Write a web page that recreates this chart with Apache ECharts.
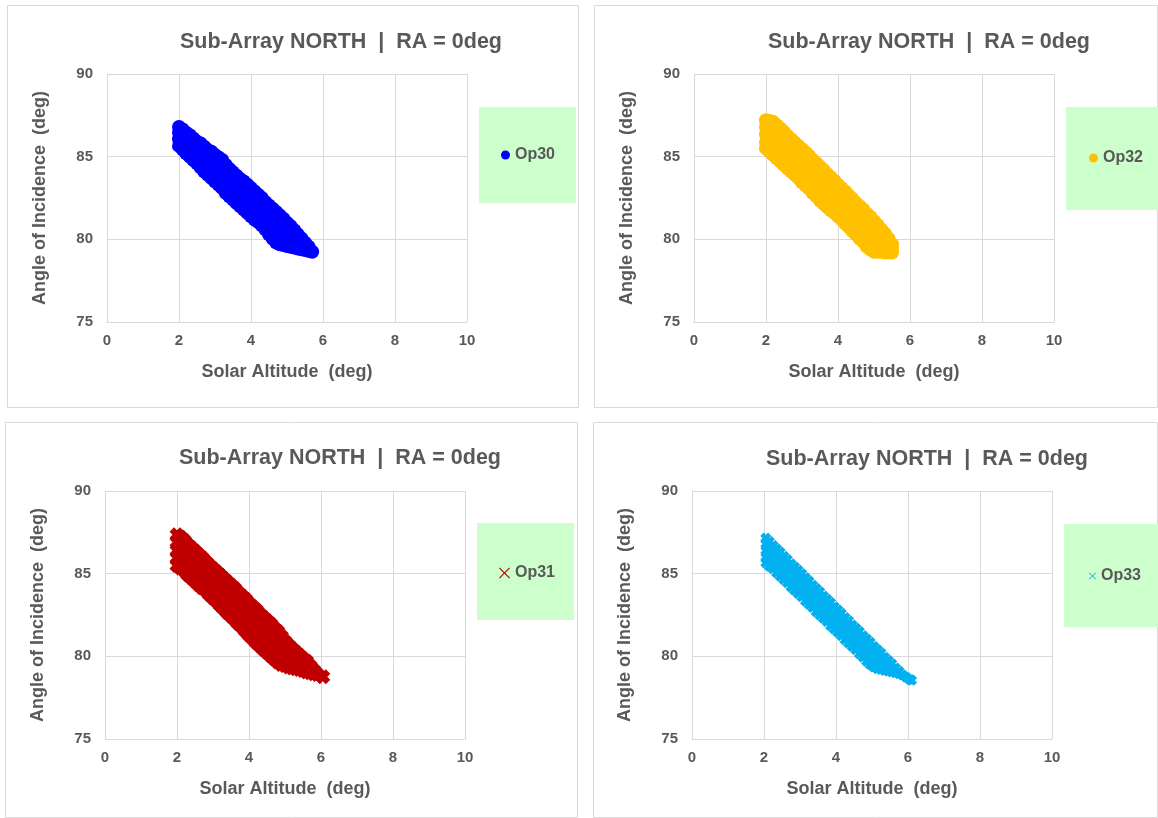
<!DOCTYPE html>
<html>
<head>
<meta charset="utf-8">
<script src="https://cdn.jsdelivr.net/npm/echarts@6/dist/echarts.min.js"></script>
<style>
  html, body { margin: 0; padding: 0; background: #ffffff; }
  #chart { width: 1158px; height: 818px; }
</style>
</head>
<body>
<div id="chart"></div>
<script>
// ---------------- data ----------------
const titleText = 'Sub-Array NORTH  |  RA = 0deg';
const xAxisName = 'Solar Altitude  (deg)';
const yAxisName = 'Angle of Incidence  (deg)';
const xTickValues = [0, 2, 4, 6, 8, 10];
const yTickValues = [75, 80, 85, 90];
const seriesNames = ['Op30', 'Op32', 'Op31', 'Op33'];

// each entry: [solar altitude, [angles of incidence observed at that altitude]]
const op30Cols = [
  [2.0, [85.65, 86.05, 86.45, 86.8]],
  [2.1, [85.45, 85.85, 86.25, 86.65]],
  [2.2, [85.2, 85.6, 86.05, 86.45]],
  [2.3, [85.0, 85.4, 85.85, 86.3]],
  [2.4, [84.8, 85.2, 85.65, 86.1]],
  [2.5, [84.6, 85.05, 85.5, 85.9]],
  [2.6, [84.35, 84.8, 85.3, 85.8]],
  [2.7, [84.1, 84.6, 85.1, 85.6]],
  [2.8, [83.9, 84.4, 84.9, 85.4]],
  [2.9, [83.7, 84.2, 84.75, 85.3]],
  [3.0, [83.5, 83.9, 84.3, 84.7, 85.1]],
  [3.1, [83.3, 83.7, 84.1, 84.55, 84.95]],
  [3.2, [83.1, 83.5, 83.9, 84.35, 84.8]],
  [3.3, [82.8, 83.25, 83.65, 84.1, 84.5]],
  [3.4, [82.6, 83.0, 83.45, 83.85, 84.25]],
  [3.5, [82.4, 82.8, 83.2, 83.65, 84.05]],
  [3.6, [82.2, 82.6, 83.0, 83.45, 83.85]],
  [3.7, [82.0, 82.4, 82.8, 83.25, 83.65]],
  [3.8, [81.8, 82.2, 82.6, 83.05, 83.5]],
  [3.9, [81.6, 82.0, 82.45, 82.9, 83.3]],
  [4.0, [81.4, 81.8, 82.25, 82.7, 83.1]],
  [4.1, [81.2, 81.65, 82.05, 82.5, 82.9]],
  [4.2, [81.05, 81.45, 81.85, 82.3, 82.7]],
  [4.3, [80.85, 81.25, 81.65, 82.1, 82.5]],
  [4.4, [80.6, 81.0, 81.45, 81.85, 82.25]],
  [4.5, [80.3, 80.75, 81.2, 81.65, 82.05]],
  [4.6, [80.05, 80.5, 80.95, 81.4, 81.85]],
  [4.7, [79.8, 80.25, 80.7, 81.2, 81.65]],
  [4.8, [79.7, 80.15, 80.6, 81.05, 81.45]],
  [4.9, [79.65, 80.05, 80.45, 80.85, 81.25]],
  [5.0, [79.6, 80.1, 80.55, 81.0]],
  [5.1, [79.55, 80.0, 80.4, 80.8]],
  [5.2, [79.5, 79.85, 80.2, 80.55]],
  [5.3, [79.45, 79.85, 80.3]],
  [5.4, [79.4, 79.75, 80.05]],
  [5.5, [79.35, 79.6, 79.8]],
  [5.6, [79.3, 79.55]],
  [5.7, [79.25]]
];

const op32Cols = [
  [2.0, [85.5, 85.85, 86.35, 86.8, 87.2]],
  [2.1, [85.3, 85.7, 86.2, 86.75, 87.15]],
  [2.2, [85.1, 85.55, 86.1, 86.65, 87.1]],
  [2.3, [84.9, 85.35, 85.9, 86.45, 86.9]],
  [2.4, [84.7, 85.15, 85.7, 86.25, 86.7]],
  [2.5, [84.5, 84.95, 85.5, 86.05, 86.5]],
  [2.6, [84.3, 84.75, 85.3, 85.85, 86.25]],
  [2.7, [84.1, 84.55, 85.1, 85.6, 86.05]],
  [2.8, [83.9, 84.35, 84.9, 85.4, 85.85]],
  [2.9, [83.7, 84.15, 84.65, 85.2, 85.65]],
  [3.0, [83.45, 83.9, 84.45, 85.0, 85.45]],
  [3.1, [83.25, 83.7, 84.25, 84.8, 85.25]],
  [3.2, [83.05, 83.5, 84.05, 84.6, 85.05]],
  [3.3, [82.8, 83.25, 83.8, 84.35, 84.8]],
  [3.4, [82.6, 83.05, 83.6, 84.15, 84.6]],
  [3.5, [82.35, 82.8, 83.35, 83.9, 84.4]],
  [3.6, [82.15, 82.6, 83.15, 83.7, 84.2]],
  [3.7, [81.95, 82.4, 82.95, 83.5, 83.95]],
  [3.8, [81.75, 82.2, 82.75, 83.3, 83.75]],
  [3.9, [81.6, 82.0, 82.55, 83.1, 83.55]],
  [4.0, [81.4, 81.8, 82.35, 82.9, 83.3]],
  [4.1, [81.2, 81.6, 82.15, 82.7, 83.1]],
  [4.2, [80.95, 81.4, 81.95, 82.45, 82.9]],
  [4.3, [80.75, 81.2, 81.7, 82.25, 82.65]],
  [4.4, [80.5, 80.95, 81.5, 82.0, 82.45]],
  [4.5, [80.3, 80.75, 81.25, 81.8, 82.2]],
  [4.6, [80.05, 80.5, 81.05, 81.6, 82.0]],
  [4.7, [79.85, 80.3, 80.8, 81.35, 81.8]],
  [4.8, [79.55, 80.0, 80.55, 81.1, 81.55]],
  [4.9, [79.4, 79.85, 80.4, 80.9, 81.35]],
  [5.0, [79.25, 79.7, 80.2, 80.7, 81.1]],
  [5.1, [79.25, 79.75, 80.35, 80.85]],
  [5.2, [79.25, 79.7, 80.2, 80.6]],
  [5.3, [79.2, 79.55, 80.0, 80.35]],
  [5.4, [79.2, 79.6, 80.05]],
  [5.5, [79.2, 79.45, 79.7]]
];

const op31Cols = [
  [2.0, [85.5, 85.95, 86.4, 86.9, 87.35]],
  [2.1, [85.35, 85.8, 86.25, 86.7, 87.2]],
  [2.2, [85.2, 85.65, 86.1, 86.55, 87.0]],
  [2.3, [84.95, 85.4, 85.85, 86.3, 86.75]],
  [2.4, [84.75, 85.2, 85.65, 86.1, 86.55]],
  [2.5, [84.55, 85.0, 85.45, 85.9, 86.35]],
  [2.6, [84.35, 84.8, 85.25, 85.7, 86.15]],
  [2.7, [84.15, 84.6, 85.05, 85.5, 85.95]],
  [2.8, [84.0, 84.45, 84.85, 85.3, 85.7]],
  [2.9, [83.75, 84.2, 84.65, 85.1, 85.5]],
  [3.0, [83.55, 84.0, 84.45, 84.9, 85.3]],
  [3.1, [83.35, 83.8, 84.25, 84.7, 85.1]],
  [3.2, [83.1, 83.55, 84.0, 84.45, 84.9]],
  [3.3, [82.9, 83.35, 83.8, 84.25, 84.7]],
  [3.4, [82.65, 83.1, 83.55, 84.0, 84.5]],
  [3.5, [82.45, 82.9, 83.35, 83.8, 84.3]],
  [3.6, [82.25, 82.7, 83.15, 83.6, 84.1]],
  [3.7, [82.0, 82.45, 82.9, 83.35, 83.85]],
  [3.8, [81.8, 82.25, 82.7, 83.2, 83.65]],
  [3.9, [81.55, 82.0, 82.5, 83.0, 83.45]],
  [4.0, [81.3, 81.8, 82.25, 82.75, 83.2]],
  [4.1, [81.1, 81.55, 82.05, 82.5, 83.0]],
  [4.2, [80.85, 81.35, 81.8, 82.3, 82.8]],
  [4.3, [80.65, 81.15, 81.6, 82.1, 82.55]],
  [4.4, [80.45, 80.95, 81.4, 81.9, 82.35]],
  [4.5, [80.25, 80.7, 81.2, 81.65, 82.15]],
  [4.6, [80.05, 80.5, 81.0, 81.45, 81.95]],
  [4.7, [79.85, 80.3, 80.8, 81.25, 81.7]],
  [4.8, [79.65, 80.1, 80.55, 81.05, 81.5]],
  [4.9, [79.5, 79.95, 80.35, 80.8, 81.2]],
  [5.0, [79.45, 79.95, 80.45, 80.9]],
  [5.1, [79.35, 79.8, 80.25, 80.65]],
  [5.2, [79.3, 79.7, 80.1, 80.45]],
  [5.3, [79.25, 79.75, 80.25]],
  [5.4, [79.2, 79.6, 80.05]],
  [5.5, [79.15, 79.5, 79.85]],
  [5.6, [79.05, 79.35, 79.7]],
  [5.7, [79.0, 79.4]],
  [5.8, [78.95, 79.15]],
  [5.9, [78.9]],
  [6.05, [78.77]]
];

const op33Cols = [
  [2.05, [85.65, 86.0, 86.4, 86.8, 87.15]],
  [2.15, [85.45, 85.8, 86.2, 86.55, 86.95]],
  [2.25, [85.3, 85.65, 86.0, 86.35, 86.7]],
  [2.35, [85.05, 85.4, 85.8, 86.15, 86.5]],
  [2.45, [84.85, 85.2, 85.55, 85.9, 86.3]],
  [2.55, [84.65, 85.0, 85.35, 85.7, 86.05]],
  [2.65, [84.45, 84.8, 85.15, 85.5, 85.85]],
  [2.75, [84.2, 84.55, 84.9, 85.25, 85.6]],
  [2.85, [84.0, 84.35, 84.7, 85.05, 85.4]],
  [2.95, [83.8, 84.15, 84.5, 84.85, 85.2]],
  [3.05, [83.6, 83.95, 84.3, 84.65, 85.0]],
  [3.15, [83.35, 83.7, 84.05, 84.4, 84.75]],
  [3.25, [83.15, 83.5, 83.85, 84.2, 84.55]],
  [3.35, [82.95, 83.3, 83.65, 84.0, 84.3]],
  [3.45, [82.7, 83.05, 83.4, 83.75, 84.1]],
  [3.55, [82.5, 82.85, 83.2, 83.55, 83.9]],
  [3.65, [82.3, 82.65, 83.0, 83.35, 83.65]],
  [3.75, [82.1, 82.45, 82.8, 83.1, 83.45]],
  [3.85, [81.85, 82.2, 82.55, 82.9, 83.25]],
  [3.95, [81.65, 82.0, 82.35, 82.7, 83.0]],
  [4.05, [81.45, 81.8, 82.1, 82.45, 82.8]],
  [4.15, [81.25, 81.6, 81.9, 82.25, 82.6]],
  [4.25, [81.0, 81.35, 81.7, 82.0, 82.35]],
  [4.35, [80.8, 81.15, 81.5, 81.8, 82.15]],
  [4.45, [80.6, 80.95, 81.25, 81.6, 81.9]],
  [4.55, [80.4, 80.75, 81.05, 81.4, 81.7]],
  [4.65, [80.15, 80.5, 80.85, 81.15, 81.5]],
  [4.75, [79.95, 80.3, 80.6, 80.95, 81.25]],
  [4.85, [79.7, 80.05, 80.4, 80.7, 81.05]],
  [4.95, [79.5, 79.85, 80.15, 80.5, 80.85]],
  [5.05, [79.35, 79.65, 80.0, 80.3, 80.6]],
  [5.15, [79.25, 79.6, 80.0, 80.4]],
  [5.25, [79.2, 79.55, 79.85, 80.2]],
  [5.35, [79.15, 79.45, 79.7, 79.95]],
  [5.45, [79.1, 79.4, 79.75]],
  [5.55, [79.05, 79.3, 79.55]],
  [5.65, [79.0, 79.3]],
  [5.75, [78.95, 79.1]],
  [5.85, [78.87]],
  [5.95, [78.73]],
  [6.05, [78.6]],
  [6.1, [78.55]]
];

// ---------------- styling / layout ----------------
const FONT = '"Liberation Sans", Arial, Helvetica, sans-serif';
const TEXT = '#595959';
const GRIDC = '#D9D9D9';
const X_THICK = 'path://M0,3.6L3.6,0L6,2.4L8.4,0L12,3.6L9.6,6L12,8.4L8.4,12L6,9.6L3.6,12L0,8.4L2.4,6Z';
const X_THIN = 'path://M0,0.9L0.9,0L6,5.1L11.1,0L12,0.9L6.9,6L12,11.1L11.1,12L6,6.9L0.9,12L0,11.1L5.1,6Z';

const panels = [
  { name: seriesNames[0], cols: op30Cols, color: '#0000FF', symbol: 'circle', size: 14,
    grid: { left: 107, top: 74 }, frame: [7, 5, 571, 402], titleX: 341, titleY: 42,
    box: [479, 107, 97, 96], legend: { left: 501, top: 147, icon: 'circle', w: 9, h: 9 } },
  { name: seriesNames[1], cols: op32Cols, color: '#FFC000', symbol: 'circle', size: 14,
    grid: { left: 694, top: 74 }, frame: [594, 5, 563, 402], titleX: 929, titleY: 42,
    box: [1066, 107, 92, 103], legend: { left: 1089, top: 150, icon: 'circle', w: 9, h: 9 } },
  { name: seriesNames[2], cols: op31Cols, color: '#C00000', symbol: X_THICK, size: 15,
    grid: { left: 105, top: 491 }, frame: [5, 422, 572, 395], titleX: 340, titleY: 458,
    box: [477, 523, 97, 97], legend: { left: 499, top: 565, icon: X_THIN, w: 11, h: 11 } },
  { name: seriesNames[3], cols: op33Cols, color: '#00B0F0', symbol: X_THICK, size: 11,
    grid: { left: 692, top: 491 }, frame: [593, 422, 564, 395], titleX: 927, titleY: 459,
    box: [1064, 524, 94, 103], legend: { left: 1089, top: 568, icon: X_THIN, w: 7, h: 7 } }
];

const toPoints = cols => cols.flatMap(([x, ys]) => ys.map(y => [x, y]));

const grids = [], xAxes = [], yAxes = [], series = [], legends = [], graphics = [];
panels.forEach((p, i) => {
  graphics.push({ type: 'rect', z: -10, shape: { x: p.frame[0] + 0.5, y: p.frame[1] + 0.5, width: p.frame[2], height: p.frame[3] },
    style: { fill: '#ffffff', stroke: GRIDC, lineWidth: 1 } });
  graphics.push({ type: 'rect', z: -5, shape: { x: p.box[0], y: p.box[1], width: p.box[2], height: p.box[3] },
    style: { fill: '#CCFFCC' } });
  graphics.push({ type: 'text', z: 5, x: p.titleX, y: p.titleY,
    style: { text: titleText, fill: TEXT, font: 'bold 21.5px ' + FONT, align: 'center', verticalAlign: 'middle' } });

  grids.push({ left: p.grid.left, top: p.grid.top, width: 360, height: 248, containLabel: false });
  xAxes.push({
    gridIndex: i, type: 'value',
    min: xTickValues[0], max: xTickValues[xTickValues.length - 1], interval: xTickValues[1] - xTickValues[0],
    name: xAxisName, nameLocation: 'middle', nameGap: 41,
    nameTextStyle: { color: TEXT, fontFamily: FONT, fontWeight: 'bold', fontSize: 18 },
    axisLine: { show: true, lineStyle: { color: GRIDC, width: 1 } },
    axisTick: { show: false },
    axisLabel: { color: TEXT, fontFamily: FONT, fontWeight: 'bold', fontSize: 15, margin: 11 },
    splitLine: { show: true, lineStyle: { color: GRIDC, width: 1 } }
  });
  yAxes.push({
    gridIndex: i, type: 'value',
    min: yTickValues[0], max: yTickValues[yTickValues.length - 1], interval: yTickValues[1] - yTickValues[0],
    name: yAxisName, nameLocation: 'middle', nameGap: 58, nameRotate: 90,
    nameTextStyle: { color: TEXT, fontFamily: FONT, fontWeight: 'bold', fontSize: 18 },
    axisLine: { show: true, lineStyle: { color: GRIDC, width: 1 } },
    axisTick: { show: false },
    axisLabel: { color: TEXT, fontFamily: FONT, fontWeight: 'bold', fontSize: 15, margin: 14 },
    splitLine: { show: true, lineStyle: { color: GRIDC, width: 1 } }
  });
  series.push({
    name: p.name, type: 'scatter', xAxisIndex: i, yAxisIndex: i,
    symbol: p.symbol, symbolSize: p.size,
    itemStyle: { color: p.color, opacity: 1 },
    emphasis: { disabled: true },
    data: toPoints(p.cols)
  });
  legends.push({
    z: 20, left: p.legend.left, top: p.legend.top, padding: 0, selectedMode: false,
    itemWidth: p.legend.w, itemHeight: p.legend.h,
    data: [{ name: p.name, icon: p.legend.icon, itemStyle: { color: p.color } }],
    textStyle: { color: TEXT, fontFamily: FONT, fontWeight: 'bold', fontSize: 16 }
  });
});

const chart = echarts.init(document.getElementById('chart'), null, { renderer: 'canvas' });
chart.setOption({
  animation: false,
  backgroundColor: '#ffffff',
  textStyle: { fontFamily: FONT },
  graphic: graphics,
  grid: grids,
  xAxis: xAxes,
  yAxis: yAxes,
  legend: legends,
  series: series
});
</script>
</body>
</html>
